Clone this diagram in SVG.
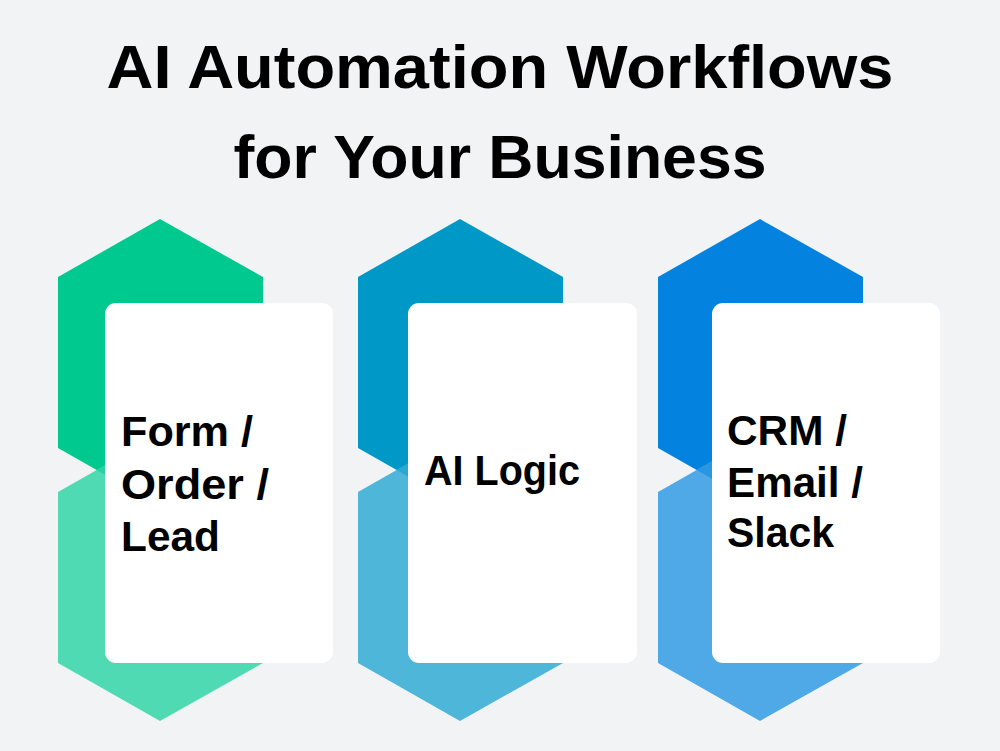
<svg xmlns="http://www.w3.org/2000/svg" width="1000" height="751" viewBox="0 0 1000 751">
<style>
.title{font-family:"Liberation Sans",Arial,sans-serif;font-weight:bold;font-size:61px;fill:#000;}
.lbl{font-family:"Liberation Sans",Arial,sans-serif;font-weight:bold;font-size:42px;fill:#000;}
.card{fill:#FFFFFF;}
</style>
<defs>
<polygon id="hexTop" points="102,0 205,58 205,229 102,287 0,229 0,58"/>
</defs>
<rect width="1000" height="751" fill="#F2F3F5"/>
<g id="title">
<text class="title" x="500" y="88" text-anchor="middle" textLength="787" lengthAdjust="spacingAndGlyphs">AI Automation Workflows</text>
<text class="title" x="500" y="178" text-anchor="middle" textLength="533" lengthAdjust="spacingAndGlyphs">for Your Business</text>
</g>
<g id="connectors"></g>
<g id="node-form">
<use href="#hexTop" x="58" y="219" fill="#00C98F"/>
<use href="#hexTop" x="58" y="434" fill="#4FDAB3"/>
<polygon points="96.7,470 105,465.3 105,474.7" fill="#2AD2A2"/>
<rect class="card" x="105" y="303" width="228" height="360" rx="11"/>
<text class="lbl" x="121" y="446" textLength="132" lengthAdjust="spacingAndGlyphs">Form /</text>
<text class="lbl" x="121" y="499" textLength="148" lengthAdjust="spacingAndGlyphs">Order /</text>
<text class="lbl" x="121" y="551" textLength="99" lengthAdjust="spacingAndGlyphs">Lead</text>
</g>
<g id="node-ai">
<use href="#hexTop" x="358" y="219" fill="#0099C7"/>
<use href="#hexTop" x="358" y="434" fill="#4DB6D9"/>
<polygon points="396.7,470 408,463.6 408,476.4" fill="#2AA8D0"/>
<rect class="card" x="408" y="303" width="229" height="360" rx="11"/>
<text class="lbl" x="424" y="485" textLength="156" lengthAdjust="spacingAndGlyphs">AI Logic</text>
</g>
<g id="node-crm">
<use href="#hexTop" x="658" y="219" fill="#0383DF"/>
<use href="#hexTop" x="658" y="434" fill="#4FA9E6"/>
<polygon points="696.7,470 712,461.3 712,478.7" fill="#2A96E2"/>
<rect class="card" x="712" y="303" width="228" height="360" rx="11"/>
<text class="lbl" x="727" y="445" textLength="120" lengthAdjust="spacingAndGlyphs">CRM /</text>
<text class="lbl" x="727" y="497" textLength="136" lengthAdjust="spacingAndGlyphs">Email /</text>
<text class="lbl" x="727" y="547" textLength="107" lengthAdjust="spacingAndGlyphs">Slack</text>
</g>
</svg>
